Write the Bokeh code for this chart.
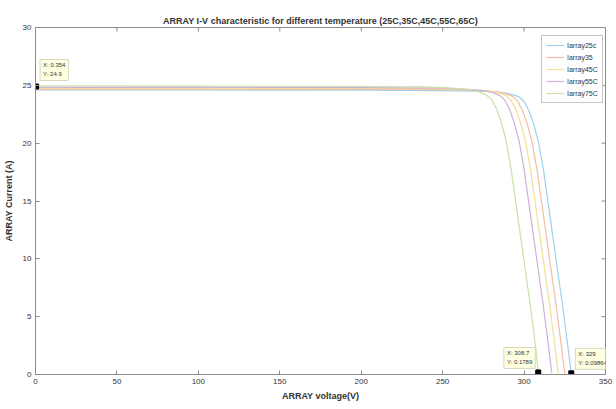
import math
from bokeh.plotting import figure
from bokeh.models import (Range1d, Label, Legend, LegendItem, FixedTicker, Title)
from bokeh.embed import file_html
from bokeh.resources import INLINE

# ---- data ----
v_25 = [0, 100, 200, 250, 270, 280, 288, 293, 297, 300, 303, 306, 309, 312, 316, 320, 324, 327, 329]
i_25 = [24.6, 24.6, 24.58, 24.55, 24.5, 24.45, 24.35, 24.2, 24.0, 23.6, 22.8, 21.6, 20.0, 17.6, 13.6, 9.6, 5.6, 2.3, 0.1]

v_35 = [0, 100, 200, 250, 266, 276, 284, 289, 293, 296, 299, 302, 305, 308, 312, 316, 320, 323, 325]
i_35 = [24.68, 24.68, 24.66, 24.63, 24.58, 24.52, 24.42, 24.26, 24.05, 23.65, 22.85, 21.65, 20.05, 17.65, 13.65, 9.65, 5.65, 2.35, 0.1]

v_45 = [0, 100, 200, 250, 262, 272, 280, 285, 289, 292, 295, 298, 301, 304, 308, 312, 316, 319, 321]
i_45 = [24.75, 24.75, 24.73, 24.7, 24.64, 24.58, 24.48, 24.32, 24.1, 23.7, 22.9, 21.7, 20.1, 17.7, 13.7, 9.7, 5.7, 2.4, 0.12]

v_55 = [0, 100, 200, 250, 258, 268, 276, 281, 285, 288, 291, 294, 297, 300, 304, 308, 312, 315, 317]
i_55 = [24.82, 24.82, 24.8, 24.76, 24.7, 24.63, 24.53, 24.36, 24.13, 23.75, 22.95, 21.75, 20.15, 17.75, 13.75, 9.75, 5.75, 2.45, 0.15]

v_75 = [0, 100, 200, 240, 250, 260, 268, 273, 277, 280, 283, 286, 289, 292, 296, 300, 304, 307, 308.7]
i_75 = [24.95, 24.93, 24.9, 24.86, 24.8, 24.72, 24.6, 24.4, 24.15, 23.8, 23.0, 21.8, 20.2, 17.8, 13.8, 9.8, 5.8, 2.5, 0.18]

series_names = ["Iarray25c", "Iarray35", "Iarray45C", "Iarray55C", "Iarray75C"]
series_colors = ["#9fd0ea", "#f2bda4", "#f6df92", "#cfb0da", "#c9e0a6"]

x_ticks = [0, 50, 100, 150, 200, 250, 300, 350]
y_ticks = [0, 5, 10, 15, 20, 25, 30]

tip_x = [0.354, 308.7, 329]
tip_y = [24.9, 0.1789, 0.09864]
tip_text = ["X: 0.354\nY: 24.9", "X: 308.7\nY: 0.1789", "X: 329\nY: 0.09864"]

FONT = "Liberation Sans"
AX_COLOR = "#8c8c8c"

p = figure(width=616, height=409, output_backend="svg", toolbar_location=None,
           x_range=Range1d(0, 350), y_range=Range1d(0, 30),
           min_border_left=33, min_border_right=11, min_border_top=27, min_border_bottom=35)
p.background_fill_color = "white"
p.border_fill_color = "white"
p.outline_line_color = AX_COLOR
p.xgrid.visible = False
p.ygrid.visible = False

p.title = Title(text="ARRAY I-V characteristic for different temperature (25C,35C,45C,55C,65C)",
                align="center", text_font=FONT, text_font_size="9px",
                text_font_style="bold", text_color="#333333", offset=10, standoff=4)

for ax in (p.xaxis[0], p.yaxis[0]):
    ax.axis_line_color = AX_COLOR
    ax.major_tick_line_color = AX_COLOR
    ax.major_tick_in = 4
    ax.major_tick_out = 0
    ax.minor_tick_line_color = None
    ax.major_label_text_font = FONT
    ax.major_label_text_font_size = "8px"
    ax.major_label_text_color = "#333333"
    ax.axis_label_text_font = FONT
    ax.axis_label_text_font_size = "9px"
    ax.axis_label_text_font_style = "bold"
    ax.axis_label_text_color = "#333333"

p.xaxis[0].ticker = FixedTicker(ticks=x_ticks)
p.yaxis[0].ticker = FixedTicker(ticks=y_ticks)
p.xaxis[0].axis_label = "ARRAY voltage(V)"
p.yaxis[0].axis_label = "ARRAY Current (A)"
p.xaxis[0].major_label_standoff = 4
p.xaxis[0].axis_label_standoff = 4
p.yaxis[0].major_label_standoff = 4
p.yaxis[0].axis_label_standoff = 6

# inward ticks on the top and right edges of the box (clipped half-dashes)
p.scatter(x_ticks, [30] * len(x_ticks), marker="dash", size=8, angle=math.pi / 2,
          line_color=AX_COLOR, line_width=1)
p.scatter([350] * len(y_ticks), y_ticks, marker="dash", size=8,
          line_color=AX_COLOR, line_width=1)

all_v = [v_25, v_35, v_45, v_55, v_75]
all_i = [i_25, i_35, i_45, i_55, i_75]
items = []
for v, i, name, col in zip(all_v, all_i, series_names, series_colors):
    r = p.line(v, i, line_color=col, line_width=1.2)
    items.append(LegendItem(label=name, renderers=[r]))

legend = Legend(items=items, location=(506, 271), orientation="vertical",
                label_text_font=FONT, label_text_font_size="7px", label_text_color="#333333",
                glyph_width=18, glyph_height=10, label_height=10, label_standoff=3,
                spacing=2, padding=4, margin=0,
                border_line_color=AX_COLOR, background_fill_color="white",
                background_fill_alpha=1.0)
p.add_layout(legend)

# data tips
p.scatter(tip_x, tip_y, marker="square", size=5, fill_color="black", line_color="black")
anchors = ["bottom_left", "bottom_right", "bottom_left"]
offsets = [(4, 6), (-3, 4), (4, 4)]
for x, y, t, a, (dx, dy) in zip(tip_x, tip_y, tip_text, anchors, offsets):
    lab = Label(x=x, y=y, text=t, anchor=a, x_offset=dx, y_offset=dy,
                text_font=FONT, text_font_size="6px", text_color="#333333",
                background_fill_color="#ffffe1", background_fill_alpha=1.0,
                border_line_color="#d8d8c0", padding=3, text_line_height=1.5)
    p.add_layout(lab)

open("out.html", "w").write(file_html(p, INLINE))
